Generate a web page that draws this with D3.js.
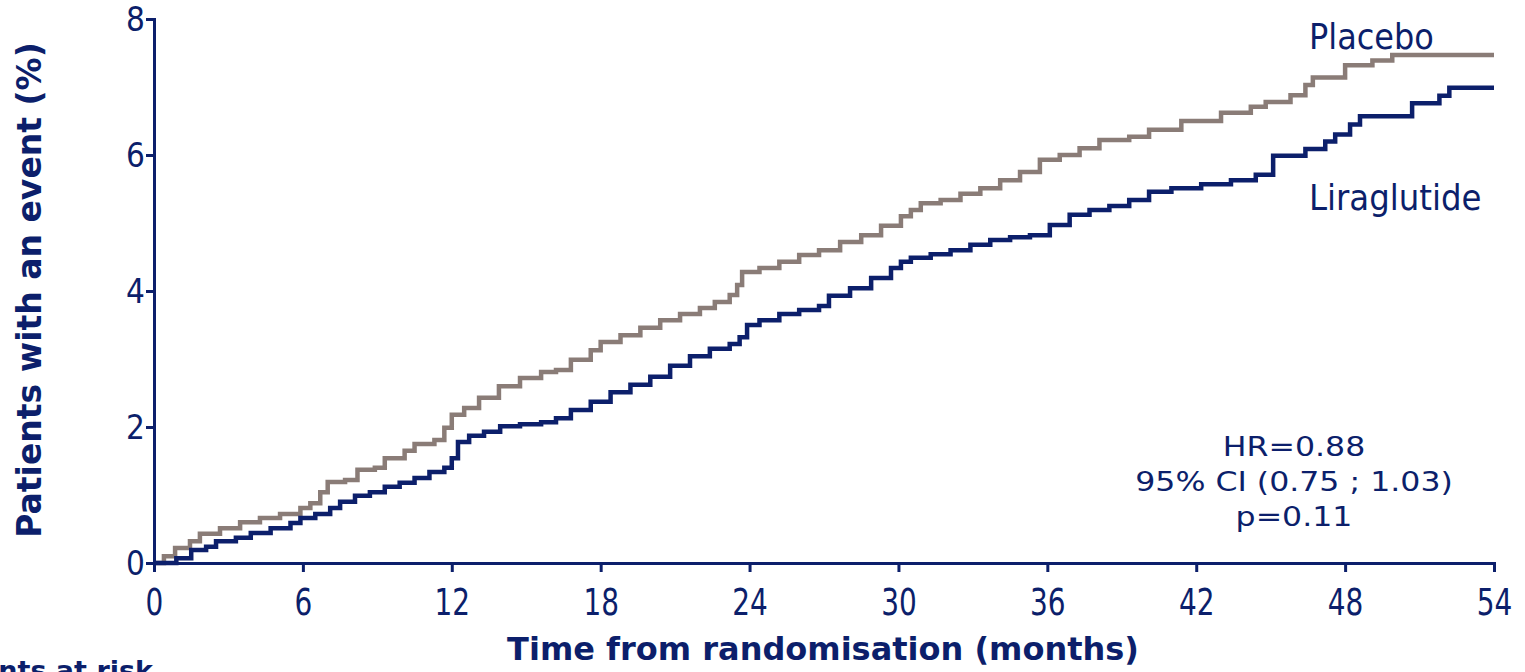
<!DOCTYPE html>
<html>
<head>
<meta charset="utf-8">
<script src="https://cdn.jsdelivr.net/npm/d3@7"></script>
<style>
  html, body { margin: 0; padding: 0; background: #fff; overflow: hidden; }
  svg { display: block; }
</style>
</head>
<body>
<svg id="chart" width="1525" height="672"></svg>
<script>
// Cumulative incidence (Kaplan–Meier style) by treatment arm
const xTicks = [0, 6, 12, 18, 24, 30, 36, 42, 48, 54];
const yTicks = [0, 2, 4, 6, 8];

const placeboMonths = [0, 0.4, 0.85, 1.45, 1.85, 2.66, 3.47, 4.27, 5.08, 5.9, 6.3, 6.7, 7.0, 7.7, 8.2, 8.9, 9.3, 10.1, 10.5, 11.3, 11.7, 12.0, 12.5, 13.1, 13.9, 14.75, 15.6, 16.2, 16.8, 17.6, 18.0, 18.8, 19.6, 20.4, 21.2, 22.0, 22.6, 23.2, 23.5, 23.7, 24.4, 25.2, 26.0, 26.8, 27.65, 28.5, 29.3, 30.1, 30.5, 30.9, 31.7, 32.5, 33.3, 34.1, 34.9, 35.7, 36.5, 37.3, 38.1, 39.3, 40.1, 41.4, 43.0, 44.2, 44.8, 45.8, 46.4, 46.7, 48.0, 49.1, 49.9, 54];
const placeboPct = [0, 0.1, 0.22, 0.32, 0.43, 0.51, 0.6, 0.66, 0.72, 0.81, 0.88, 1.04, 1.19, 1.22, 1.37, 1.4, 1.54, 1.65, 1.75, 1.81, 1.99, 2.18, 2.28, 2.43, 2.6, 2.72, 2.81, 2.84, 2.99, 3.13, 3.25, 3.35, 3.46, 3.57, 3.66, 3.75, 3.84, 3.94, 4.09, 4.28, 4.34, 4.43, 4.53, 4.6, 4.72, 4.82, 4.96, 5.1, 5.19, 5.29, 5.34, 5.43, 5.51, 5.63, 5.75, 5.93, 6.0, 6.1, 6.22, 6.27, 6.37, 6.5, 6.62, 6.71, 6.78, 6.88, 7.03, 7.14, 7.32, 7.39, 7.47, 7.47];

const liraMonths = [0, 0.9, 1.5, 2.1, 2.5, 3.3, 3.9, 4.7, 5.5, 5.9, 6.5, 7.1, 7.5, 8.1, 8.7, 9.3, 9.9, 10.5, 11.1, 11.7, 12.0, 12.25, 12.7, 13.3, 13.95, 14.75, 15.6, 16.2, 16.8, 17.6, 18.4, 19.2, 20.0, 20.8, 21.6, 22.4, 23.2, 23.6, 23.9, 24.4, 25.2, 26.0, 26.8, 27.2, 28.05, 28.9, 29.7, 30.1, 30.5, 31.3, 32.1, 32.9, 33.7, 34.5, 35.3, 36.1, 36.9, 37.7, 38.5, 39.3, 40.1, 41.0, 42.2, 43.4, 44.4, 45.1, 46.4, 47.2, 47.6, 48.2, 48.6, 50.7, 51.8, 52.2, 54];
const liraPct = [0, 0.07, 0.19, 0.24, 0.32, 0.37, 0.44, 0.51, 0.59, 0.66, 0.72, 0.81, 0.9, 0.99, 1.04, 1.12, 1.18, 1.25, 1.34, 1.4, 1.54, 1.78, 1.87, 1.93, 2.01, 2.04, 2.07, 2.13, 2.25, 2.37, 2.51, 2.62, 2.74, 2.9, 3.04, 3.15, 3.22, 3.32, 3.5, 3.57, 3.66, 3.72, 3.78, 3.93, 4.04, 4.19, 4.34, 4.43, 4.49, 4.54, 4.6, 4.68, 4.75, 4.79, 4.82, 4.97, 5.12, 5.19, 5.25, 5.34, 5.46, 5.51, 5.57, 5.63, 5.71, 5.99, 6.09, 6.2, 6.3, 6.45, 6.57, 6.76, 6.87, 6.99, 6.99];

const statLines = ["HR=0.88", "95% CI (0.75 ; 1.03)", "p=0.11"];

const NAVY = "#0c1f6b";
const GREY = "#8a7c77";

const svg = d3.select("#chart");
const plotLeft = 154, plotRight = 1494, plotTop = 19, plotBottom = 563;

const x = d3.scaleLinear().domain([0, 54]).range([plotLeft, plotRight]);
const y = d3.scaleLinear().domain([0, 8]).range([plotBottom, plotTop]);

const line = d3.line()
  .x(d => x(d[0]))
  .y(d => y(d[1]))
  .curve(d3.curveStepAfter);

const placebo = placeboMonths.map((m, i) => [m, placeboPct[i]]);
const lira = liraMonths.map((m, i) => [m, liraPct[i]]);

svg.append("path").datum(placebo)
  .attr("d", line).attr("fill", "none")
  .attr("stroke", GREY).attr("stroke-width", 4.5);

svg.append("path").datum(lira)
  .attr("d", line).attr("fill", "none")
  .attr("stroke", NAVY).attr("stroke-width", 4.5);

// Axes
const xAxis = svg.append("g")
  .attr("transform", `translate(0,${plotBottom})`)
  .call(d3.axisBottom(x).tickValues(xTicks).tickSize(9).tickPadding(17).tickFormat(d3.format("d")));
const yAxis = svg.append("g")
  .attr("transform", `translate(${plotLeft},0)`)
  .call(d3.axisLeft(y).tickValues(yTicks).tickSize(8).tickPadding(1).tickFormat(d3.format("d")));

[xAxis, yAxis].forEach(g => {
  g.select(".domain").attr("stroke", NAVY).attr("stroke-width", 3);
  g.selectAll(".tick line").attr("stroke", NAVY).attr("stroke-width", 3);
  g.selectAll(".tick text")
    .attr("fill", NAVY)
    .style("font-family", "'DejaVu Sans Condensed', 'DejaVu Sans', sans-serif");
});
xAxis.selectAll(".tick text")
  .style("font-size", "37px")
  .attr("transform", "scale(0.84,1)")
  .attr("dy", "0.71em");
yAxis.selectAll(".tick text")
  .style("font-size", "33px")
  .attr("dy", "0.36em");

// Axis titles
const boldFont = "'DejaVu Sans', Verdana, sans-serif";
svg.append("text")
  .attr("transform", `translate(41,290) rotate(-90)`)
  .attr("text-anchor", "middle")
  .attr("fill", NAVY)
  .style("font-family", boldFont)
  .style("font-weight", "bold")
  .style("font-size", "33px")
  .text("Patients with an event (%)");

svg.append("text")
  .attr("x", 823).attr("y", 660)
  .attr("text-anchor", "middle")
  .attr("fill", NAVY)
  .style("font-family", boldFont)
  .style("font-weight", "bold")
  .style("font-size", "32px")
  .text("Time from randomisation (months)");

svg.append("text")
  .attr("x", 153).attr("y", 680)
  .attr("text-anchor", "end")
  .attr("fill", NAVY)
  .style("font-family", boldFont)
  .style("font-weight", "bold")
  .style("font-size", "27px")
  .text("Patients at risk");

// Series labels
const labelFont = "'DejaVu Sans Condensed', 'DejaVu Sans', sans-serif";
svg.append("text")
  .attr("x", 1309).attr("y", 49)
  .attr("fill", NAVY)
  .style("font-family", labelFont)
  .style("font-size", "35.5px")
  .text("Placebo");
svg.append("text")
  .attr("x", 1309).attr("y", 210)
  .attr("fill", NAVY)
  .style("font-family", labelFont)
  .style("font-size", "36px")
  .text("Liraglutide");

// Hazard ratio annotation (slightly widened type)
svg.append("g")
  .attr("transform", "translate(1294,0) scale(1.17,1)")
  .selectAll("text").data(statLines).join("text")
  .attr("x", 0)
  .attr("y", (d, i) => 456 + i * 35)
  .attr("text-anchor", "middle")
  .attr("fill", NAVY)
  .style("font-family", "'DejaVu Sans', Verdana, sans-serif")
  .style("font-size", "27px")
  .text(d => d);
</script>
</body>
</html>
